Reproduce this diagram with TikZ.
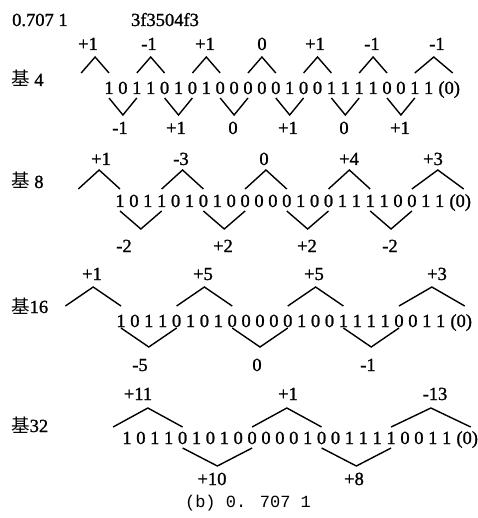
\documentclass[tikz,border=0pt]{standalone}
\usepackage{fontspec}
\setmainfont[FakeBold=1.2]{Liberation Serif}
\newfontfamily\hanzi{Noto Sans CJK SC}
\newfontfamily\capfont{Liberation Mono}

% mantissa bits of 0.7071 (with hidden bit)
\newcommand\bitlist{1,0,1,1,0,1,0,1,0,0,0,0,0,1,0,0,1,1,1,1,0,0,1,1}

% x position of slot #1 in the current row (slot 25 is the appended (0))
\newcommand\getslot[2]{\pgfmathsetmacro#2{ifthenelse(#1==25,\rowx+23*\rowp+24,\rowx+(#1-1)*\rowp)}}

% one row of bits: name prefix, baseline
\newcommand\bitrow[2]{%
  \foreach \b [count=\i] in \bitlist {\node[bit] (#1d\i) at ({\rowx+(\i-1)*\rowp},#2) {\b};}
  \node[bit] (#1d25) at ({\rowx+23*\rowp+20.5},#2) {(0)};}

% Booth windows drawn above the bits: list a/c, end y, peak y
\newcommand\upcarets[3]{%
  \foreach \a/\c in {#1}{\getslot{\a}{\xa}\getslot{\c}{\xc}
    \draw[caret] (\xa,#2) -- ({(\xa+\xc)/2},#3) -- (\xc,#2);}}
% Booth windows drawn below the bits
\newcommand\downcarets[3]{\upcarets{#1}{#2}{#3}}

\begin{document}
\begin{tikzpicture}[x=1pt,y=-1pt,
  txt/.style={anchor=base,inner sep=0pt,font=\fontsize{18.5}{21}\selectfont},
  bit/.style={txt},
  digitlabel/.style={txt},
  radixname/.style={anchor=base west,inner sep=0pt,font=\fontsize{18.5}{21}\selectfont},
  caret/.style={line width=1.4pt,line join=miter,line cap=butt}]
\useasboundingbox (0,0) rectangle (477,518);

% header
\node[radixname] (val) at (12,26) {0.707 1};
\node[txt] (hex) at (165,26) {3f3504f3};

% ---- radix 4 ----
\def\rowx{109}\def\rowp{13.9}
\node[radixname] (r1name) at (11,86) {{\hanzi 基} 4};
\bitrow{r1}{94}
\upcarets{-1/1,3/5,7/9,11/13,15/17,19/21,23/25}{73}{57}
\downcarets{1/3,5/7,9/11,13/15,17/19,21/23}{98}{115}
\foreach \t/\x [count=\k] in {+1/88,-1/149,+1/205,0/262,+1/315,-1/372,-1/437}
  \node[digitlabel] (r1t\k) at (\x,50) {\t};
\foreach \t/\x [count=\k] in {-1/120,+1/176,0/233,+1/288,0/344,+1/400}
  \node[digitlabel] (r1b\k) at (\x,134) {\t};

% ---- radix 8 ----
\def\rowx{120}\def\rowp{13.9}
\node[radixname] (r2name) at (11,188) {{\hanzi 基} 8};
\bitrow{r2}{207}
\upcarets{-2/1,4/7,10/13,16/19,22/25}{189}{170}
\downcarets{1/4,7/10,13/16,19/22}{211}{229}
\foreach \t/\x [count=\k] in {+1/101,-3/181,0/264,+4/349,+3/433}
  \node[digitlabel] (r2t\k) at (\x,165) {\t};
\foreach \t/\x [count=\k] in {-2/124,+2/223,+2/307,-2/390}
  \node[digitlabel] (r2b\k) at (\x,252) {\t};

% ---- radix 16 ----
\def\rowx{121}\def\rowp{13.9}
\node[radixname] (r3name) at (11,313) {{\hanzi 基}16};
\bitrow{r3}{327}
\upcarets{-3/1,5/9,13/17,21/25}{306}{287}
\downcarets{1/5,9/13,17/21}{328}{347}
\foreach \t/\x [count=\k] in {+1/92,+5/203,+5/314,+3/437}
  \node[digitlabel] (r3t\k) at (\x,280) {\t};
\foreach \t/\x [count=\k] in {-5/140,0/257,-1/368}
  \node[digitlabel] (r3b\k) at (\x,371) {\t};

% ---- radix 32 ----
\def\rowx{127}\def\rowp{13.9}
\node[radixname] (r4name) at (11,432) {{\hanzi 基}32};
\bitrow{r4}{444}
\upcarets{0/5,10/15,20/25}{427}{408}
\downcarets{5/10,15/20}{448}{466}
\foreach \t/\x [count=\k] in {+11/138,+1/288,-13/435}
  \node[digitlabel] (r4t\k) at (\x,400) {\t};
\foreach \t/\x [count=\k] in {+10/212,+8/354}
  \node[digitlabel] (r4b\k) at (\x,485) {\t};

% caption
\node[anchor=base,inner sep=0pt,font=\capfont\fontsize{17}{20}\selectfont] (cap) at (248,507) {(b) 0. 707 1};
\end{tikzpicture}
\end{document}
